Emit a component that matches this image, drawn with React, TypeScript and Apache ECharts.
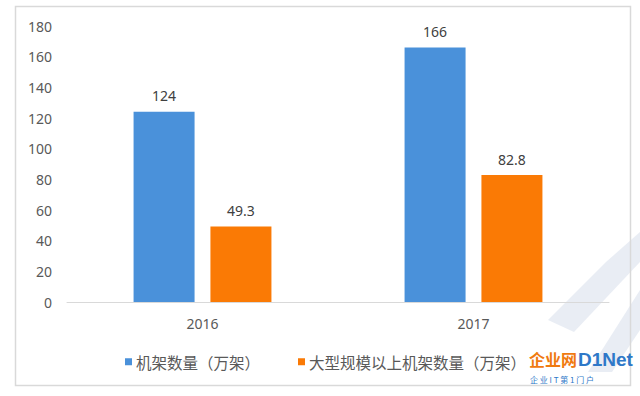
import React, { useEffect, useRef } from "react";
import * as echarts from "echarts";

const categories = ["2016", "2017"];
const rackCount = [124, 166];
const largeRackCount = [49.3, 82.8];
const seriesNames = ["机架数量（万架）", "大型规模以上机架数量（万架）"];
const yTicks = { min: 0, max: 180, interval: 20 };

export default function App() {
  const ref = useRef<HTMLDivElement>(null);
  useEffect(() => {
    if (!ref.current) return;
    const chart = echarts.init(ref.current, undefined, { renderer: "svg" });
    const labelFont = "'Noto Sans', 'Liberation Sans', sans-serif";
    const labelCfg = {
      show: true,
      position: "top",
      distance: 9,
      fontSize: 14,
      color: "#404040",
      fontFamily: labelFont,
    };
    chart.setOption({
      animation: false,
      backgroundColor: "#ffffff",
      grid: { left: 67, right: 31, top: 26, bottom: 94, containLabel: false },
      legend: {
        data: seriesNames,
        left: 120,
        top: 349,
        itemWidth: 7,
        itemHeight: 7,
        itemGap: 38,
        icon: "rect",
        textStyle: {
          fontSize: 15.5,
          color: "#595959",
          fontFamily: "'Noto Sans CJK SC', sans-serif",
          padding: [0, 0, 0, -1],
        },
      },
      xAxis: {
        type: "category",
        data: categories,
        axisLine: { lineStyle: { color: "#d9d9d9", width: 1 } },
        axisTick: { show: false },
        axisLabel: { fontSize: 14, color: "#595959", margin: 14, fontFamily: labelFont },
      },
      yAxis: {
        type: "value",
        min: yTicks.min,
        max: yTicks.max,
        interval: yTicks.interval,
        axisLine: { show: false },
        axisTick: { show: false },
        splitLine: { show: false },
        axisLabel: { fontSize: 14, color: "#595959", margin: 15, fontFamily: labelFont },
      },
      series: [
        {
          name: seriesNames[0],
          type: "bar",
          data: rackCount,
          barWidth: 61,
          barGap: "26%",
          itemStyle: { color: "#4A91DA" },
          label: labelCfg,
        },
        {
          name: seriesNames[1],
          type: "bar",
          data: largeRackCount,
          barWidth: 61,
          barGap: "26%",
          itemStyle: { color: "#FA7A05" },
          label: labelCfg,
        },
      ],
      graphic: [
        {
          type: "rect",
          shape: { x: 15.5, y: 6.5, width: 615, height: 379 },
          style: { fill: "none", stroke: "#d9d9d9", lineWidth: 1.5 },
          silent: true,
          z: -1,
        },
        {
          type: "polygon",
          shape: { points: [[606, 262], [640, 232], [640, 262], [574, 332], [548, 320]] },
          style: { fill: "#dfe6f0", opacity: 0.7 },
          silent: true,
          z: -2,
        },
        {
          type: "polygon",
          shape: { points: [[640, 290], [640, 330], [612, 372], [588, 372]] },
          style: { fill: "#dfe6f0", opacity: 0.7 },
          silent: true,
          z: -2,
        },
        {
          type: "text",
          x: 529,
          y: 351,
          style: {
            text: "企业网",
            fill: "#F07A10",
            font: "bold 16px 'Noto Sans CJK SC', sans-serif",
          },
          z: 100,
        },
        {
          type: "text",
          x: 578,
          y: 350,
          style: {
            text: "D1Net",
            fill: "#2E78C8",
            font: "bold 19px 'Liberation Sans', sans-serif",
          },
          z: 100,
        },
        {
          type: "text",
          x: 530,
          y: 375,
          style: {
            text: "企 业 I T 第 1 门 户",
            fill: "#2E78C8",
            font: "8px 'Noto Sans CJK SC', sans-serif",
          },
          z: 100,
        },
      ],
    });
    return () => chart.dispose();
  }, []);
  return (
    <div
      ref={ref}
      style={{ position: "absolute", left: 0, top: 0, width: 640, height: 396 }}
    />
  );
}
